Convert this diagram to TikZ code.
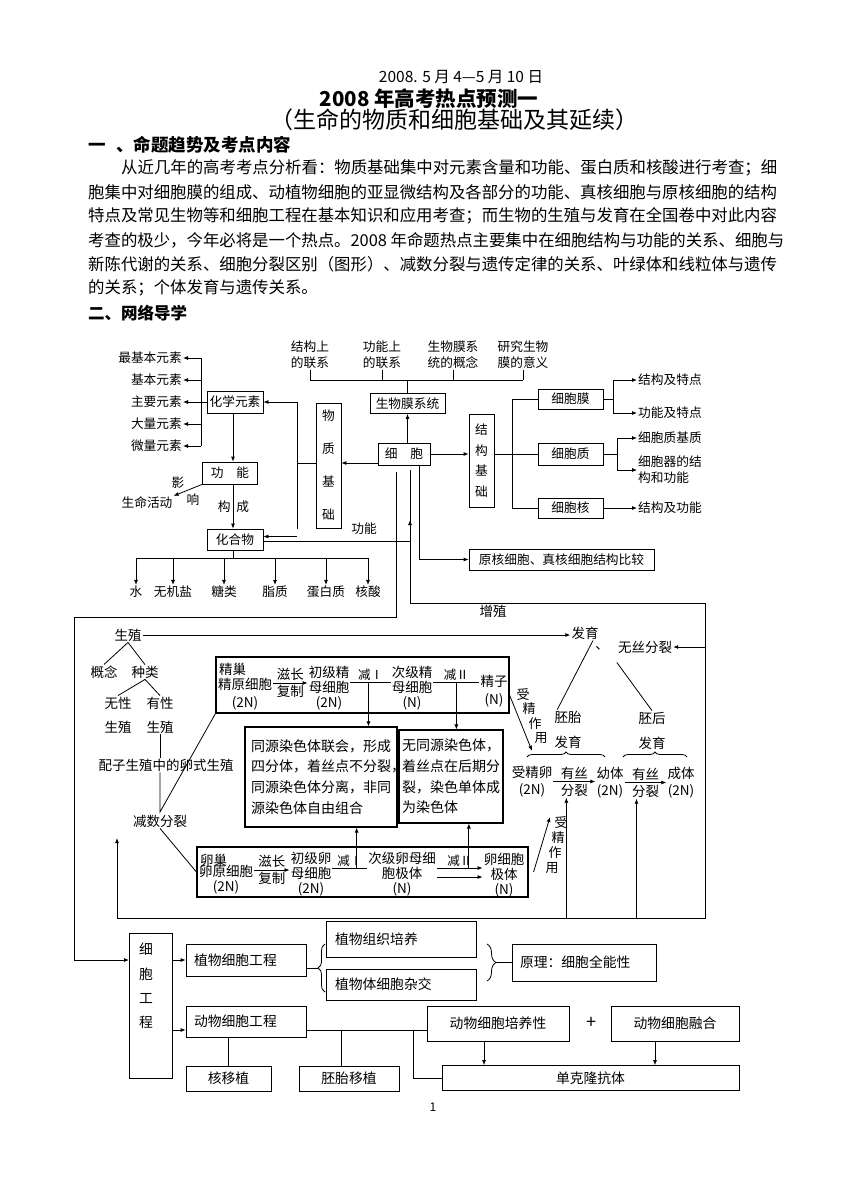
\documentclass[tikz,border=0pt]{standalone}
\usepackage{fontspec}
\setmainfont{Noto Sans CJK SC}
\usepackage{tikz}
\usetikzlibrary{arrows.meta,calc,positioning,decorations.pathreplacing}

\begin{document}
\begin{tikzpicture}[x=1pt, y=-1pt,
    line/.style={line width=0.8pt},
    arr/.style={line width=0.8pt, -{Latex[length=5pt,width=4pt]}},
    curly/.style={decorate, decoration={brace, amplitude=#1}, line width=0.8pt},
    tbox/.style={draw, line width=0.8pt, inner sep=1pt, font=\fontsize{12.7}{15}\selectfont},
    tlbl/.style={inner sep=1pt, align=center, font=\fontsize{12.7}{16}\selectfont},
    mbox/.style={draw, line width=1.1pt},
    mlbl/.style={inner sep=1pt, align=center, font=\fontsize{13.5}{15}\selectfont},
    jlbl/.style={inner sep=0.5pt, font=\fontsize{12.5}{14}\selectfont},
    fzch/.style={inner sep=0pt, font=\fontsize{13}{14}\selectfont},
    mtext/.style={draw, line width=1.1pt, align=left, font=\fontsize{14}{20.7}\selectfont},
    bbox/.style={draw, line width=0.8pt, inner sep=0pt, font=\fontsize{13.8}{16}\selectfont},
    blbl/.style={inner sep=0pt, font=\fontsize{13.8}{16}\selectfont}
  ]
  \path[use as bounding box, fill=white] (0,0) rectangle (860,1191);

  % Header
  \node[font=\fontsize{15.5}{18}\selectfont] (date) at (461,77) {2008. 5 月 4—5 月 10 日};
  \node[font=\bfseries\fontsize{20.5}{23}\selectfont] (title) at (429,99) {2008 年高考热点预测一};
  \node[font=\fontsize{23}{26}\selectfont] (subtitle) at (454,120) {（生命的物质和细胞基础及其延续）};
  \node[anchor=west, inner sep=0pt, font=\bfseries\fontsize{17.5}{20}\selectfont] (sec1) at (88,145) {一\hspace{0.6em}、命题趋势及考点内容};
  \begin{scope}[every node/.style={anchor=west, inner sep=0pt, font=\fontsize{16.4}{20}\selectfont}]
    \node (p1) at (121,168) {从近几年的高考考点分析看：物质基础集中对元素含量和功能、蛋白质和核酸进行考查；细};
    \node (p2) at (88,192) {胞集中对细胞膜的组成、动植物细胞的亚显微结构及各部分的功能、真核细胞与原核细胞的结构};
    \node (p3) at (88,216) {特点及常见生物等和细胞工程在基本知识和应用考查；而生物的生殖与发育在全国卷中对此内容};
    \node (p4) at (88,240) {考查的极少，今年必将是一个热点。2008 年命题热点主要集中在细胞结构与功能的关系、细胞与};
    \node (p5) at (88,264) {新陈代谢的关系、细胞分裂区别（图形）、减数分裂与遗传定律的关系、叶绿体和线粒体与遗传};
    \node (p6) at (88,288) {的关系；个体发育与遗传关系。};
  \end{scope}
  \node[anchor=west, inner sep=0pt, font=\bfseries\fontsize{16.5}{20}\selectfont] (sec2) at (88,313) {二、网络导学};

  % Elements and compounds
  \node[tbox, minimum width=56pt, minimum height=22pt] (chem) at (235,402) {化学元素};
  \node[tbox, minimum width=55pt, minimum height=22pt] (func) at (230,473) {功　能};
  \node[tbox, minimum width=56pt, minimum height=21pt] (comp) at (235,539.5) {化合物};
  \coordinate (colx) at (233,0);
  \draw[arr] (chem.south -| colx) -- (func.north -| colx);
  \draw[arr] (func.south -| colx) -- (comp.north -| colx)
    node[midway, left=1pt, tlbl] (lblGou) {构} node[midway, right=2pt, tlbl] (lblCheng) {成};

  \coordinate (ebus) at (201,402);
  \foreach \n/\t/\yy in {e1/最基本元素/358, e2/基本元素/380, e3/主要元素/402, e4/大量元素/424, e5/微量元素/446}
    \node[tlbl, anchor=east] (\n) at (183,\yy) {\t};
  \draw[line] (ebus |- e1) -- (ebus |- e5);
  \draw[line] (chem.west) -- (ebus);
  \foreach \i in {1,...,5}
    \draw[arr] (ebus |- e\i) -- (e\i.east);

  \node[tlbl] (life) at (147,503) {生命活动};
  \draw[arr] (func.south west) -- (life.north east);
  \node[tlbl] (lblYing) at (178,483) {影};
  \node[tlbl] (lblXiang) at (193,500) {响};

  \coordinate (cbus) at (233,558);
  \foreach \n/\t/\xx in {w1/水/136, w2/无机盐/173, w3/糖类/224, w4/脂质/275, w5/蛋白质/326, w6/核酸/368}
    \node[tlbl] (\n) at (\xx,592) {\t};
  \draw[line] (comp.south -| colx) -- (cbus);
  \draw[line] (cbus -| w1) -- (cbus -| w6);
  \foreach \i in {1,...,6}
    \draw[arr] (cbus -| w\i) -- (w\i.north);

  % Cell
  \node[tbox, minimum width=25pt, minimum height=125pt, font=\fontsize{12.7}{33}\selectfont, align=center] (matter) at (328.5,465.5) {物\\质\\基\\础};
  \node[tbox, minimum width=52pt, minimum height=22pt] (cell) at (404,454) {细　胞};
  \coordinate (mbus) at (297,463);
  \draw[line] (matter.west |- mbus) -- (mbus);
  \draw[line] (mbus |- chem) -- (mbus |- comp.north);
  \draw[arr] (mbus |- chem) -- (chem.east);
  \coordinate (cin) at ([yshift=3pt]comp.east);
  \draw[arr] (mbus |- cin) -- (cin);
  \draw[arr] (cell.west |- mbus) -- (matter.east |- mbus);

  \node[tbox, minimum width=75pt, minimum height=20pt] (mem) at (407.5,403.5) {生物膜系统};
  \draw[arr] (cell.north -| mem) -- (mem.south);
  \foreach \n/\t/\xx in {m1/{结构上\\的联系}/310, m2/{功能上\\的联系}/382, m3/{生物膜系\\统的概念}/453, m4/{研究生物\\膜的意义}/523}
    \node[tlbl] (\n) at (\xx,355) {\t};
  \coordinate (mtop) at (407.5,380);
  \draw[line] (mem.north) -- (mtop);
  \draw[line] (mtop -| m1) -- (mtop -| m4);
  \foreach \i in {1,...,4}
    \draw[line] (mtop -| m\i) -- (m\i.south);

  \node[tbox, minimum width=25pt, minimum height=93pt, font=\fontsize{12.7}{20.5}\selectfont, align=center] (sbase) at (481.5,460.5) {结\\构\\基\\础};
  \draw[arr] (cell.east) -- (sbase.west |- cell);
  \coordinate (sbus) at (512,454);
  \draw[line] (sbase.east |- sbus) -- (sbus);
  \node[tbox, minimum width=65pt, minimum height=20pt] (cmem) at (570.5,399) {细胞膜};
  \node[tbox, minimum width=65pt, minimum height=22pt] (cplasm) at (570.5,454) {细胞质};
  \node[tbox, minimum width=65pt, minimum height=20pt] (cnuc) at (570.5,508) {细胞核};
  \draw[line] (sbus |- cmem) -- (sbus |- cnuc);
  \foreach \n in {cmem,cplasm,cnuc}
    \draw[line] (sbus |- \n) -- (\n.west);

  \node[tlbl, anchor=west] (t1) at (637,380) {结构及特点};
  \node[tlbl, anchor=west] (t2) at (637,413) {功能及特点};
  \node[tlbl, anchor=west] (t3) at (637,438) {细胞质基质};
  \node[tlbl, anchor=west, align=left] (t4) at (637,470) {细胞器的结\\构和功能};
  \node[tlbl, anchor=west] (t5) at (637,508) {结构及功能};
  \coordinate (rb1) at (613,399);
  \draw[line] (cmem.east) -- (rb1);
  \draw[line] (rb1 |- t1) -- (rb1 |- t2);
  \draw[arr] (rb1 |- t1) -- (t1.west);
  \draw[arr] (rb1 |- t2) -- (t2.west);
  \coordinate (rb2) at (617,454);
  \draw[line] (cplasm.east) -- (rb2);
  \draw[line] (rb2 |- t3) -- (rb2 |- t4);
  \draw[arr] (rb2 |- t3) -- (t3.west);
  \draw[arr] (rb2 |- t4) -- (t4.west);
  \draw[arr] (cnuc.east) -- (t5.west);

  \node[tbox, minimum width=185pt, minimum height=21pt] (cmp) at (561.5,559.5) {原核细胞、真核细胞结构比较};
  \coordinate (vC) at (419,0);
  \draw[arr] (cell.south -| vC) |- (cmp.west);

  \coordinate (fTip) at (410,520);
  \draw[arr] ([yshift=-2pt]comp.east) -| (fTip);
  \node[tlbl] (lblFunc) at (364,529) {功能};

  % Reproduction and development
  \coordinate (vA) at (396,472);
  \coordinate (vB) at (410,470);
  \coordinate (loopTR) at (705,603);
  \coordinate (loopBL) at (117,918);
  \coordinate (upTip) at (117,838);
  \coordinate (frameTL) at (74,617);
  \draw[arr] (vB) |- (loopTR) |- (loopBL) -- (upTip);
  \node[mlbl] (lblProl) at (493,611) {增殖};

  \node[mlbl] (repro) at (128,635) {生殖};
  \node[mlbl] (dev) at (585,633) {发育};
  \draw[arr] (repro.east) -- (dev.west |- repro);
  \node[mlbl] (concept) at (104,672) {概念};
  \node[mlbl] (kind) at (145,672) {种类};
  \draw[line] (repro.south) -- (concept.north);
  \draw[line] (repro.south) -- (kind.north);
  \node[mlbl, font=\fontsize{13.5}{24}\selectfont] (asex) at (118,715) {无性\\生殖};
  \node[mlbl, font=\fontsize{13.5}{24}\selectfont] (sex) at (160,715) {有性\\生殖};
  \draw[line] (kind.south) -- (asex.north);
  \draw[line] (kind.south) -- (sex.north);
  \node[mlbl] (gam) at (166,765) {配子生殖中的卵式生殖};
  \node[mlbl] (meio) at (160,821) {减数分裂};
  \coordinate (vtx) at (160,812);

  % testis
  \node[mbox, minimum width=293pt, minimum height=56pt] (testis) at (362.5,685) {};
  \node[mlbl, anchor=west] (tLbl) at (218,669) {精巢};
  \node[mlbl, font=\fontsize{13.5}{18}\selectfont] (spg) at (245,694) {精原细胞\\(2N)};
  \node[mlbl] (spc) at (329,688) {初级精\\母细胞\\(2N)};
  \node[mlbl] (ssc) at (412,688) {次级精\\母细胞\\(N)};
  \node[mlbl, font=\fontsize{13.5}{18}\selectfont] (sperm) at (494,691) {精子\\(N)};

  % ovary
  \node[mbox, minimum width=331pt, minimum height=50pt] (ovary) at (362.5,872) {};
  \node[mlbl, anchor=west] (oLbl) at (199,860) {卵巢};
  \node[mlbl] (oog) at (226,879.5) {卵原细胞\\(2N)};
  \node[mlbl] (poc) at (311,874) {初级卵\\母细胞\\(2N)};
  \node[mlbl] (soc) at (402,874) {次级卵母细\\胞极体\\(N)};
  \node[mlbl] (egg) at (504,875) {卵细胞\\极体\\(N)};

  \node[mtext, inner sep=5pt, text width=140pt, minimum width=152pt, minimum height=100pt] (hom) at (321,777)
    {同源染色体联会，形成\\四分体，着丝点不分裂\makebox[7pt][l]{，}\\同源染色体分离，非同\\源染色体自由组合};
  \node[mtext, inner sep=3pt, text width=98pt, minimum width=104pt, minimum height=93pt] (nonhom) at (451,776.5)
    {无同源染色体，\\着丝点在后期分\\裂，染色单体成\\为染色体};

  \draw[line] (sex.south) -- (gam.north -| sex.south);
  \draw[line] (gam.south -| vtx) -- (vtx) -- (testis.south west);
  \draw[line] (meio.south) -- (ovary.west);

  \coordinate (r1) at ([yshift=11pt]spg.east);
  \draw[arr] (r1) -- (r1 -| spc.west)
    node[midway, above=1pt, mlbl] (lZ1) {滋长} node[midway, below=1pt, mlbl] (lF1) {复制};
  \coordinate (r2) at ([yshift=6pt]spc.east);
  \draw[line] (r2) -- (r2 -| ssc.west) node[midway, above=1pt, jlbl] (lJ1) {减Ⅰ} coordinate[pos=0.45] (d1);
  \draw[arr] (d1) -- (d1 |- hom.north);
  \coordinate (r3) at ([yshift=6pt]ssc.east);
  \draw[line] (r3) -- (r3 -| sperm.west) node[midway, above=1pt, jlbl] (lJ2) {减Ⅱ} coordinate[midway] (d2);
  \draw[arr] (d2) -- (d2 |- nonhom.north);

  \coordinate (r4) at ([yshift=9.5pt]oog.east);
  \draw[arr] (r4) -- (r4 -| poc.west)
    node[midway, above=1pt, mlbl] (lZ2) {滋长} node[midway, below=1pt, mlbl] (lF2) {复制};
  \coordinate (r5) at ([yshift=6pt]poc.east);
  \draw[line] (r5) -- (r5 -| soc.west) node[midway, above=1pt, jlbl] (lJ3) {减Ⅰ} coordinate[pos=0.7] (d3);
  \draw[arr] (d3) -- (d3 |- hom.south);
  \coordinate (r6) at ([yshift=6pt]soc.east);
  \coordinate (r7) at ([yshift=-3pt]soc.east);
  \draw[arr] (r6) -- (r6 -| egg.west) node[midway, above=1pt, jlbl] (lJ4) {减Ⅱ} coordinate[pos=0.7] (d4);
  \draw[arr] (r7) -- (r7 -| egg.west);
  \draw[arr] (d4) -- (d4 |- nonhom.south);

  % development
  \node[mlbl] (pun) at (602,648) {、};
  \node[mlbl] (wusi) at (645,647) {无丝分裂};
  \draw[arr] (loopTR |- wusi) -- (wusi.east);
  \node[mlbl, font=\fontsize{13.5}{25}\selectfont] (emb) at (568,729.5) {胚胎\\发育};
  \node[mlbl, font=\fontsize{13.5}{25}\selectfont] (post) at (652,730.5) {胚后\\发育};
  \draw[line] ([xshift=8pt]dev.south) -- ([xshift=4pt]emb.north west);
  \draw[line] ([yshift=-8pt]wusi.south west) -- (post.north);
  \draw[curly=5pt] (527,757) -- (605,757);
  \draw[curly=5pt] (623,757) -- (687,757);

  \node[mlbl, font=\fontsize{13.5}{17}\selectfont] (zyg) at (532,781.5) {受精卵\\(2N)};
  \node[mlbl, font=\fontsize{13.5}{17}\selectfont] (juv) at (610,782.5) {幼体\\(2N)};
  \node[mlbl, font=\fontsize{13.5}{17}\selectfont] (adult) at (681,782.5) {成体\\(2N)};
  \draw[arr] (zyg.east) -- (zyg.east -| juv.west)
    node[midway, above=1pt, mlbl] (ys1) {有丝} node[midway, below=1pt, mlbl] (fl1) {分裂};
  \draw[arr] (juv.east) -- (juv.east -| adult.west)
    node[midway, above=1pt, mlbl] (ys2) {有丝} node[midway, below=1pt, mlbl] (fl2) {分裂};
  \coordinate (u1) at ([xshift=-8pt]fl1.south);
  \coordinate (u2) at ([xshift=-9pt]fl2.south);
  \draw[arr] (u1 |- loopBL) -- (u1);
  \draw[arr] (u2 |- loopBL) -- (u2);

  % fertilisation
  \coordinate (fz1) at ([yshift=-10pt]testis.east);
  \coordinate (fz1e) at ([yshift=14pt]zyg.north);
  \draw[arr] (fz1) -- (fz1e);
  \foreach \c [count=\i] in {受,精,作,用}
    \node[fzch] (fzA\i) at (517+6*\i, 680+14.5*\i) {\c};
  \coordinate (fz2) at ([xshift=5pt]ovary.east);
  \coordinate (fz2e) at (550,817);
  \draw[arr] (fz2) -- (fz2e);
  \foreach \c [count=\i] in {受,精,作,用}
    \node[fzch] (fzB\i) at (564-3*\i, 808+15*\i) {\c};

  % Cell engineering
  \draw[arr] (vA) |- (frameTL) |- (129,960);
  \node[bbox, minimum width=43pt, minimum height=145pt] (cellEng) at (150.5,1005.5) {};
  \node[blbl, anchor=north, align=center, font=\fontsize{13.8}{24.3}\selectfont] (cellEngT) at (146,943) {细\\胞\\工\\程};
  \node[bbox, minimum width=120pt, minimum height=32pt, text width=104pt, align=left] (plantEng) at (246,960) {植物细胞工程};
  \node[bbox, minimum width=120pt, minimum height=31pt, text width=104pt, align=left] (animEng) at (246,1021.5) {动物细胞工程};
  \coordinate (abus) at (0,1030);
  \draw[arr] (cellEng.east |- plantEng) -- (plantEng.west);
  \draw[arr] (cellEng.east |- abus) -- (animEng.west |- abus);

  \node[bbox, minimum width=150pt, minimum height=36pt, text width=132pt, align=left] (tissue) at (401,939) {植物组织培养};
  \node[bbox, minimum width=150pt, minimum height=31pt, text width=132pt, align=left] (hybrid) at (401,984.5) {植物体细胞杂交};
  \node[bbox, minimum width=144pt, minimum height=37pt, text width=128pt, align=left] (principle) at (584,962.5) {原理：细胞全能性};
  \draw[curly=7pt] (325,992) -- (325,944);
  \coordinate (blTip) at (318,968);
  \draw[line] (plantEng.east |- blTip) -- (blTip);
  \draw[curly=9pt] (487,944) -- (487,981);
  \coordinate (brTip) at (496,962.5);
  \draw[line] (brTip) -- (principle.west);

  \node[bbox, minimum width=142pt, minimum height=35pt] (culture) at (498,1023.5) {动物细胞培养性};
  \node[blbl, font=\fontsize{18}{20}\selectfont] (plus) at (591,1023) {+};
  \node[bbox, minimum width=128pt, minimum height=35pt] (fusion) at (675,1023.5) {动物细胞融合};
  \node[bbox, minimum width=85pt, minimum height=25pt] (nucT) at (228.5,1078.5) {核移植};
  \node[bbox, minimum width=100pt, minimum height=25pt] (embT) at (349,1078.5) {胚胎移植};
  \node[bbox, minimum width=297pt, minimum height=25pt] (mab) at (590.5,1078) {单克隆抗体};

  \draw[line] (animEng.east |- abus) -- (culture.west |- abus);
  \draw[line] (animEng.south -| nucT) -- (nucT.north);
  \coordinate (t2x) at (341,0);
  \draw[line] (abus -| t2x) -- (embT.north -| t2x);
  \coordinate (t3x) at (413,0);
  \draw[line] (abus -| t3x) |- (mab.west);
  \coordinate (a1x) at (484,0);
  \draw[arr] (culture.south -| a1x) -- (mab.north -| a1x);
  \coordinate (a2x) at (655,0);
  \draw[arr] (fusion.south -| a2x) -- (mab.north -| a2x);

  \node[font=\fontsize{12}{14}\selectfont] (pageNo) at (433,1107) {1};
\end{tikzpicture}
\end{document}
